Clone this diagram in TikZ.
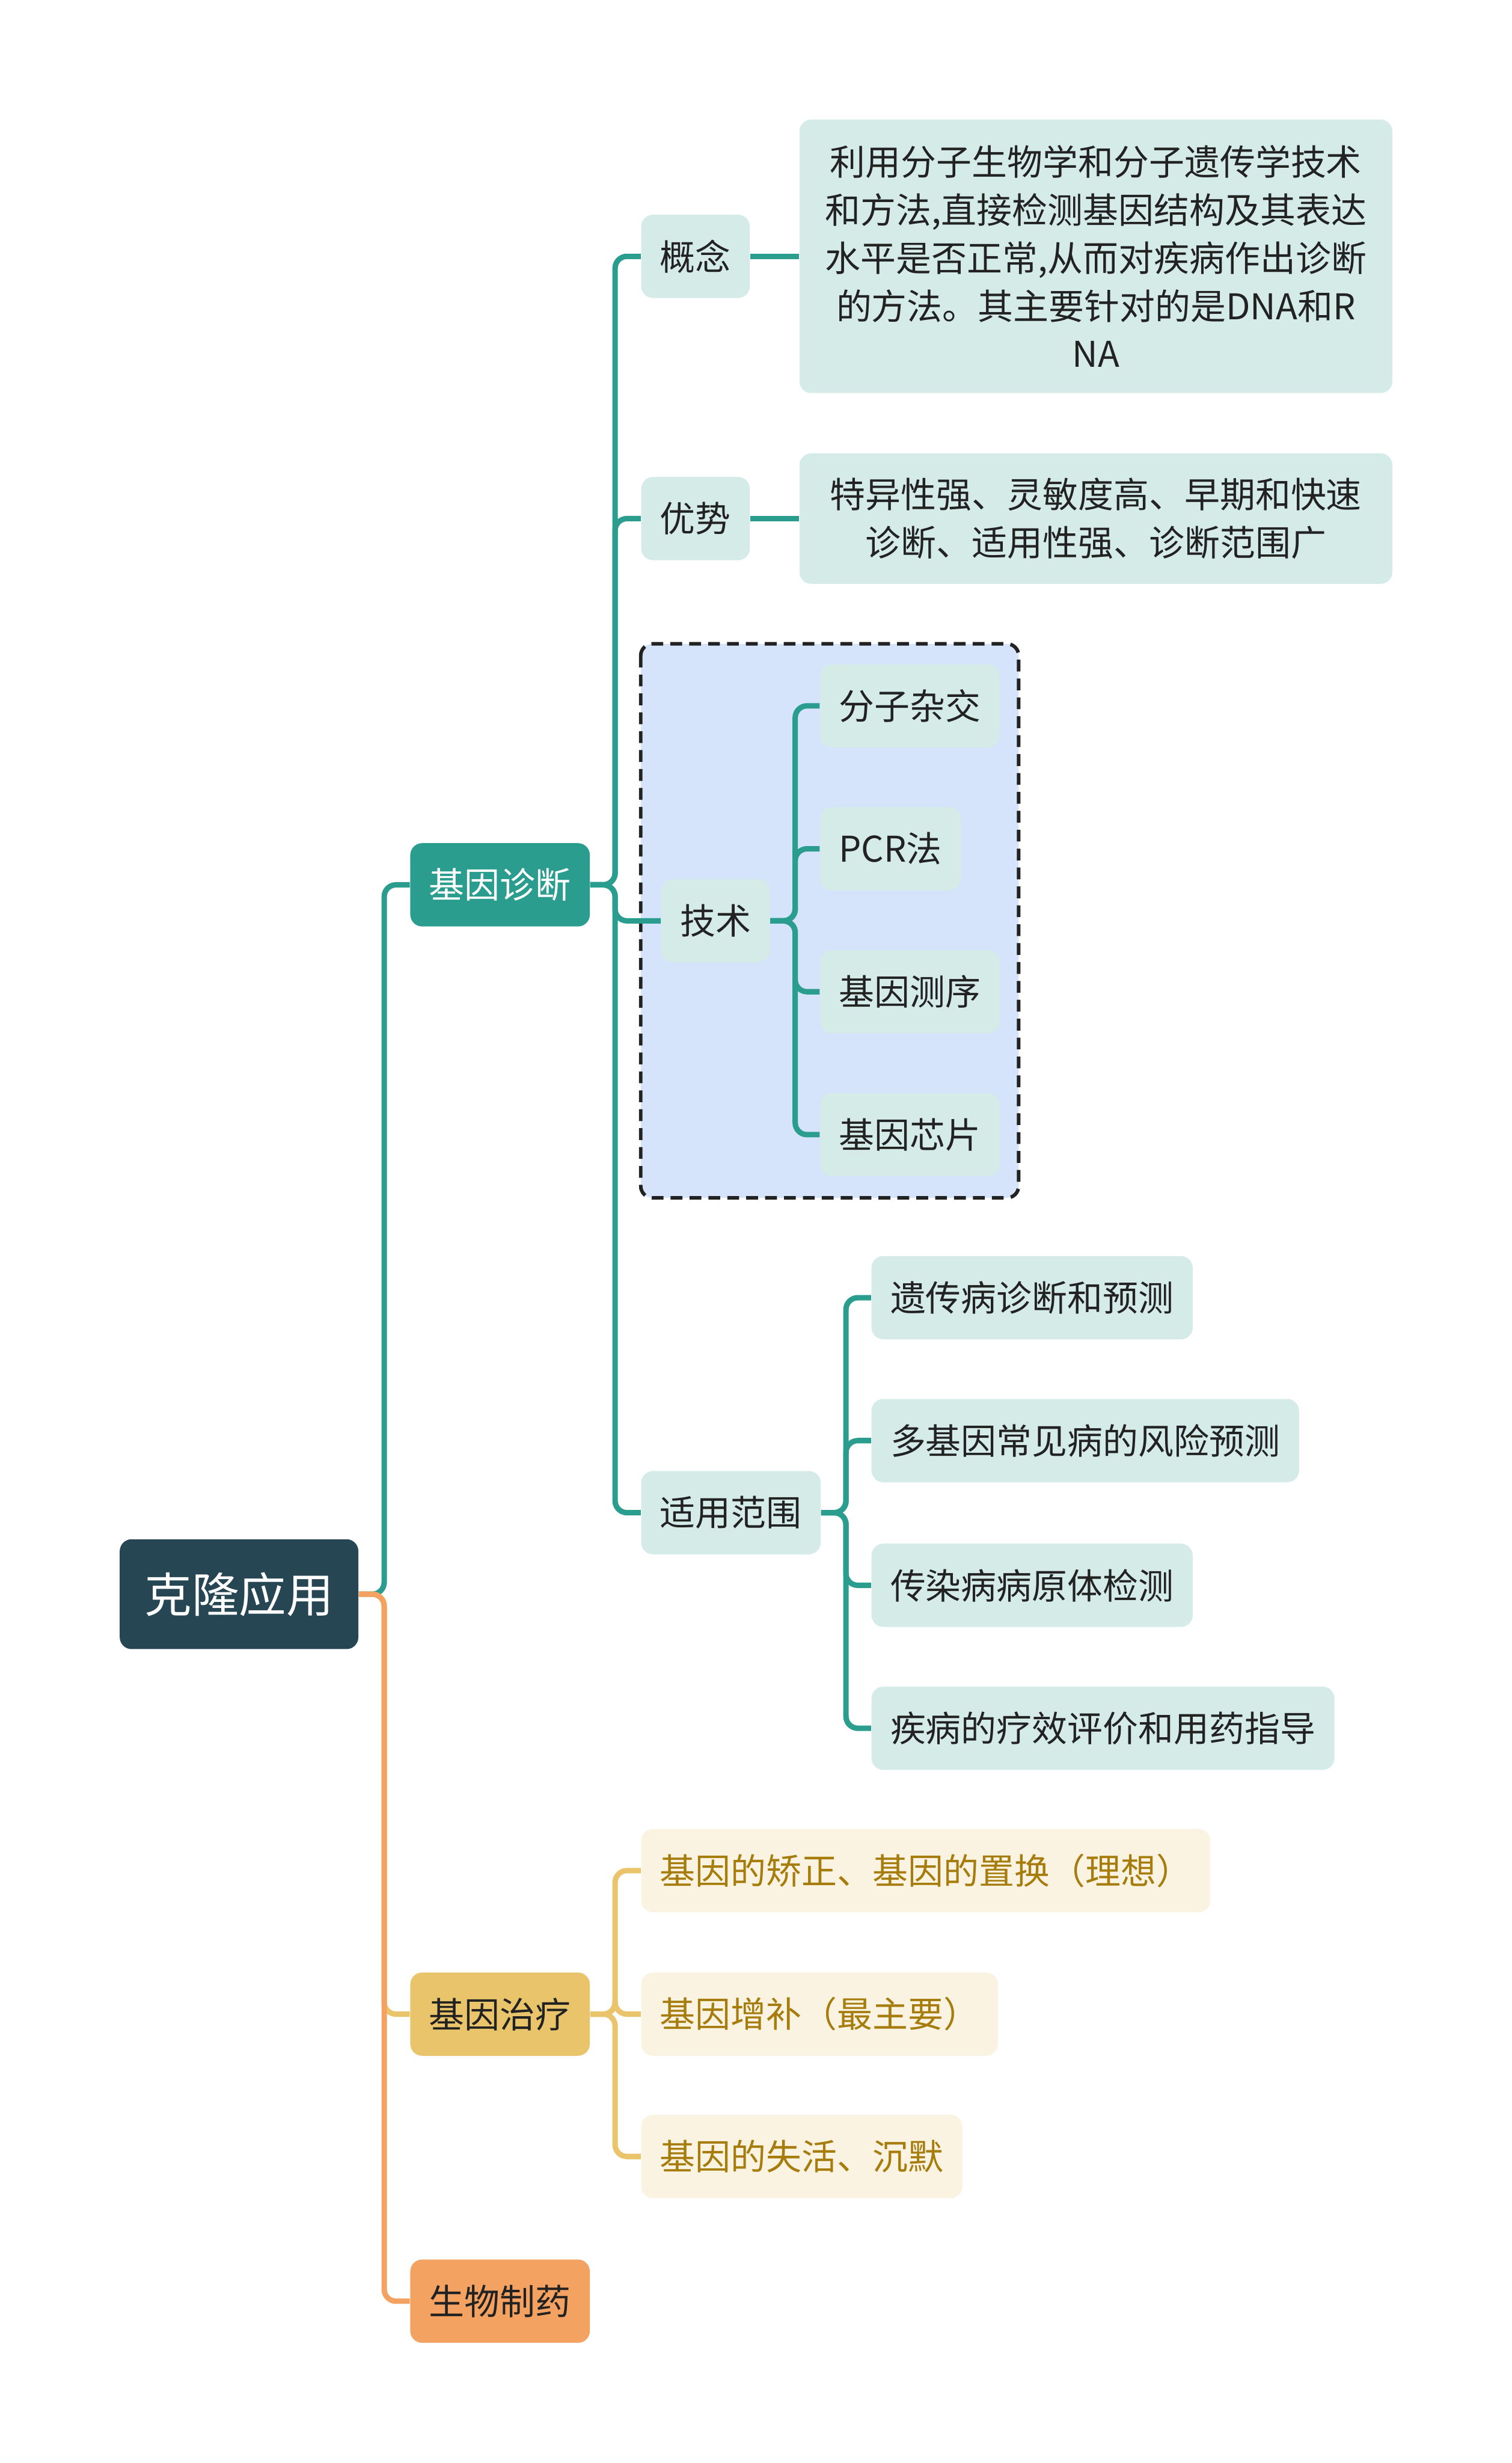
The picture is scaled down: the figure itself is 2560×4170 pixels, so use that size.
\documentclass[tikz,border=0pt]{standalone}
\usepackage{fontspec}
\setmainfont{Noto Sans CJK SC}
\usetikzlibrary{calc,backgrounds}
\definecolor{froot}{HTML}{264653}
\definecolor{fteal}{HTML}{2A9D8F}
\definecolor{fmint}{HTML}{D5EBE8}
\definecolor{fsky}{HTML}{D6E4FB}
\definecolor{fsand}{HTML}{E9C46A}
\definecolor{fcream}{HTML}{FBF3E1}
\definecolor{fgold}{HTML}{A67C0C}
\definecolor{forange}{HTML}{F4A261}
\definecolor{fink}{HTML}{222222}
\tikzset{
  topic/.style     = {rectangle, rounded corners=5pt, inner xsep=8pt, inner ysep=0pt,
                      minimum height=35.25pt, anchor=west, text=fink,
                      font=\fontsize{15}{20.3}\selectfont},
  rootbox/.style   = {topic, fill=froot, text=white, minimum width=101pt,
                      minimum height=46.5pt, font=\fontsize{20}{24}\selectfont},
  subtopic/.style  = {topic, fill=fmint},
  leaftext/.style  = {subtopic, align=center, text width=235pt},
  cure/.style      = {topic, fill=fcream, text=fgold},
  edge/.style      = {line width=2.3pt, rounded corners=5pt},
  techframe/.style = {draw=fink, fill=fsky, line width=1.5pt,
                      dash pattern=on 5pt off 3pt, rounded corners=5pt},
}
\begin{document}
\begin{tikzpicture}[x=0.25pt, y=-0.25pt]
\useasboundingbox (0,0) rectangle (2560,4170);
% ---- root and main branches ----
\node[rootbox] (root) at (202,2699) {克隆应用};
\node[topic, fill=fteal, text=white] (diag) at (694,1498) {基因诊断};
\node[topic, fill=fsand] (therapy) at (694,3410) {基因治疗};
\node[topic, fill=forange] (pharma) at (694,3896) {生物制药};
% ---- gene diagnosis ----
\node[subtopic] (concept) at (1085,434) {概念};
\node[subtopic] (advantage) at (1085,878) {优势};
\node[subtopic] (tech) at (1119,1559) {技术};
\node[subtopic] (scope) at (1085,2561) {适用范围};
\node[leaftext, minimum height=115.75pt] (conceptText) at (1353,434)
  {利用分子生物学和分子遗传学技术\\和方法,直接检测基因结构及其表达\\
   水平是否正常,从而对疾病作出诊断\\的方法。其主要针对的是DNA和R\\NA};
\node[leaftext, minimum height=55.25pt] (advText) at (1353,878)
  {特异性强、灵敏度高、早期和快速\\诊断、适用性强、诊断范围广};
\node[subtopic] (hybrid) at (1388,1195) {分子杂交};
\node[subtopic] (pcr) at (1388,1437) {PCR法};
\node[subtopic] (seq) at (1388,1679) {基因测序};
\node[subtopic] (chip) at (1388,1921) {基因芯片};
\node[subtopic] (scopeA) at (1475,2197) {遗传病诊断和预测};
\node[subtopic] (scopeB) at (1475,2439) {多基因常见病的风险预测};
\node[subtopic] (scopeC) at (1475,2684) {传染病病原体检测};
\node[subtopic] (scopeD) at (1475,2926) {疾病的疗效评价和用药指导};
% ---- gene therapy ----
\node[cure] (cureA) at (1085,3167) {基因的矫正、基因的置换（理想）};
\node[cure] (cureB) at (1085,3410) {基因增补（最主要）};
\node[cure] (cureC) at (1085,3651) {基因的失活、沉默};
% ---- connectors ----
\begin{scope}[on background layer]
\draw[techframe] (1085,1090) rectangle (1725,2028);
\draw[edge, fteal]   (root.east) -- ++(43,0) |- (diag.west);
\draw[edge, fsand]   (root.east) -- ++(43,0) |- (therapy.west);
\draw[edge, forange] (root.east) -- ++(43,0) |- (pharma.west);
\foreach \kid in {concept,advantage,tech,scope}
  \draw[edge, fteal] (diag.east) -- ++(42,0) |- (\kid.west);
\draw[edge, fteal] (concept.east) -- (conceptText.west);
\draw[edge, fteal] (advantage.east) -- (advText.west);
\foreach \kid in {hybrid,pcr,seq,chip}
  \draw[edge, fteal] (tech.east) -- ++(42,0) |- (\kid.west);
\foreach \kid in {scopeA,scopeB,scopeC,scopeD}
  \draw[edge, fteal] (scope.east) -- ++(42,0) |- (\kid.west);
\foreach \kid in {cureA,cureB,cureC}
  \draw[edge, fsand] (therapy.east) -- ++(42,0) |- (\kid.west);
\end{scope}
\end{tikzpicture}
\end{document}
